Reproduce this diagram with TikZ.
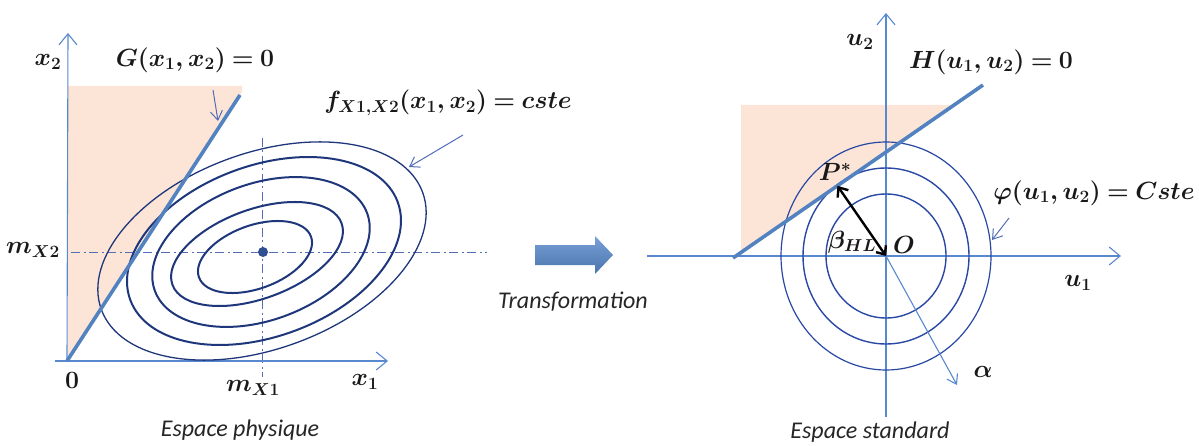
\documentclass[tikz,border=0pt]{standalone}
\usepackage{fontspec}
\newfontfamily\capfont{Carlito}
\usetikzlibrary{arrows.meta, calc}

\definecolor{axisblue}{RGB}{88,136,206}
\definecolor{limitblue}{RGB}{82,130,192}
\definecolor{ringnavy}{RGB}{30,54,122}
\definecolor{ringblue}{RGB}{40,72,164}
\definecolor{failpeach}{RGB}{252,229,215}

\begin{document}
\thickmuskip=4mu plus 2mu\relax
\begin{tikzpicture}[
    x=1pt, y=1pt,
    every node/.style={inner sep=1pt},
    mlabel/.style={font=\fontsize{23.5}{28}\selectfont\boldmath, text=black!90},
    caption/.style={font=\fontsize{24}{28}\selectfont\capfont\itshape, text=black!85},
    axis/.style={draw=axisblue, line width=1.1pt, -{Straight Barb[length=11pt, width=18pt]}},
    limit/.style={draw=limitblue, line width=3.6pt},
    ring/.style={draw=ringnavy, line width=2pt},
    circ/.style={draw=ringblue, line width=1.4pt},
    pointer/.style={draw=ringblue!80, line width=1pt, -{Straight Barb[length=9pt, width=12pt]}},
    meanline/.style={draw=ringblue!80, line width=1pt, dash pattern=on 9pt off 3.5pt on 2pt off 3.5pt},
    failzone/.style={fill=failpeach}
]
\useasboundingbox (0,0) rectangle (1199,445);

% Espace physique
\coordinate (o1) at (67,84);
\coordinate (g2) at (240,350);
\coordinate (m1) at (263,193);
\fill[failzone] (68,84) -- (68,359) -- (242,359) -- (242,353) -- cycle;

\draw[meanline] (71,193) -- (487,193);
\draw[meanline] (262,307) -- (262,68);

\draw[axis] (55,84) -- (388,84);
\draw[axis] (o1) -- (68,412);

\foreach \cx/\cy/\ra/\rb in {255/188/59.6/31.6, 257/191/90/44.6, 261/193/113/68.3, 264/194/142.4/85.5}
  \draw[ring, rotate around={20:(\cx,\cy)}] (\cx,\cy) ellipse [x radius=\ra, y radius=\rb];
\draw[ring, line width=1.3pt, rotate around={20:(262,194)}] (262,194) ellipse [x radius=171, y radius=98];

\fill[ringnavy!70!axisblue] (m1) circle [radius=5];
\draw[limit] (o1) -- (g2);

\node[mlabel] (lx2) at (48,383) {$x_2$};
\node[mlabel] (lg) at (195,385) {$G(x_1,x_2)=0$};
\node[mlabel] (lf) at (448,342) {$f_{X1,X2}(x_1,x_2)=cste$};
\node[mlabel] (lmx2) at (33,195) {$m_{X2}$};
\node[mlabel] (l0) at (72,65) {$0$};
\node[mlabel] (lmx1) at (253,57) {$m_{X1}$};
\node[mlabel] (lx1) at (365,63) {$x_1$};
\node[caption] (cphys) at (240,15) {Espace physique};

\coordinate (gp) at (213,355);
\coordinate (gt) at (218,324);
\draw[pointer] (gp) -- (gt);
\coordinate (fp) at (463,310);
\coordinate (ft) at (409,278);
\draw[pointer] (fp) -- (ft);

% Transformation
\shade[top color=axisblue!80, bottom color=limitblue!90!black]
  (535,180) -- (595,180) -- (595,171) -- (613,190) -- (595,209) -- (595,200) -- (535,200) -- cycle;
\node[caption] (ctrans) at (573,143) {Transformation};

% Espace standard
\coordinate (o2) at (886,189);
\coordinate (h1) at (733,187);
\coordinate (h2) at (983,360);
\coordinate (p) at ($(h1)!(o2)!(h2)$);
\fill[failzone] (741,340) -- (951,340) -- (741,193) -- cycle;

\draw[axis] (647,189) -- (1121,189);
\draw[axis] (886,28) -- (886,432);

\foreach \ra/\rb in {60/62, 83/88}
  \draw[circ] (o2) ellipse [x radius=\ra, y radius=\rb];
\draw[circ, line width=1.2pt] (o2) ellipse [x radius=105, y radius=114];

\draw[limit] (h1) -- (h2);
\coordinate (al) at (957,60);
\draw[pointer, draw=axisblue, line width=1.1pt] (o2) -- (al);
\draw[black, line width=2.4pt, {Straight Barb[length=7pt, width=12pt]}-{Straight Barb[length=8pt, width=13pt]}] (o2) -- (p);

\node[mlabel] (lu2) at (860,403) {$u_2$};
\node[mlabel] (lu1) at (1078,162) {$u_1$};
\node[mlabel] (lh) at (991,383) {$H(u_1,u_2)=0$};
\node[mlabel] (lphi) at (1094,252) {$\varphi(u_1,u_2)=Cste$};
\node[mlabel] (lp) at (835,273) {$P^{*}$};
\node[mlabel] (lo) at (904,200) {$O$};
\node[mlabel] (lbeta) at (852,203) {$\beta_{HL}$};
\node[mlabel] (lal) at (983,73) {$\alpha$};
\node[caption] (cstd) at (870,13) {Espace standard};

\coordinate (php) at (1009,227);
\coordinate (pht) at (992,205);
\draw[pointer] (php) -- (pht);
\end{tikzpicture}
\end{document}
